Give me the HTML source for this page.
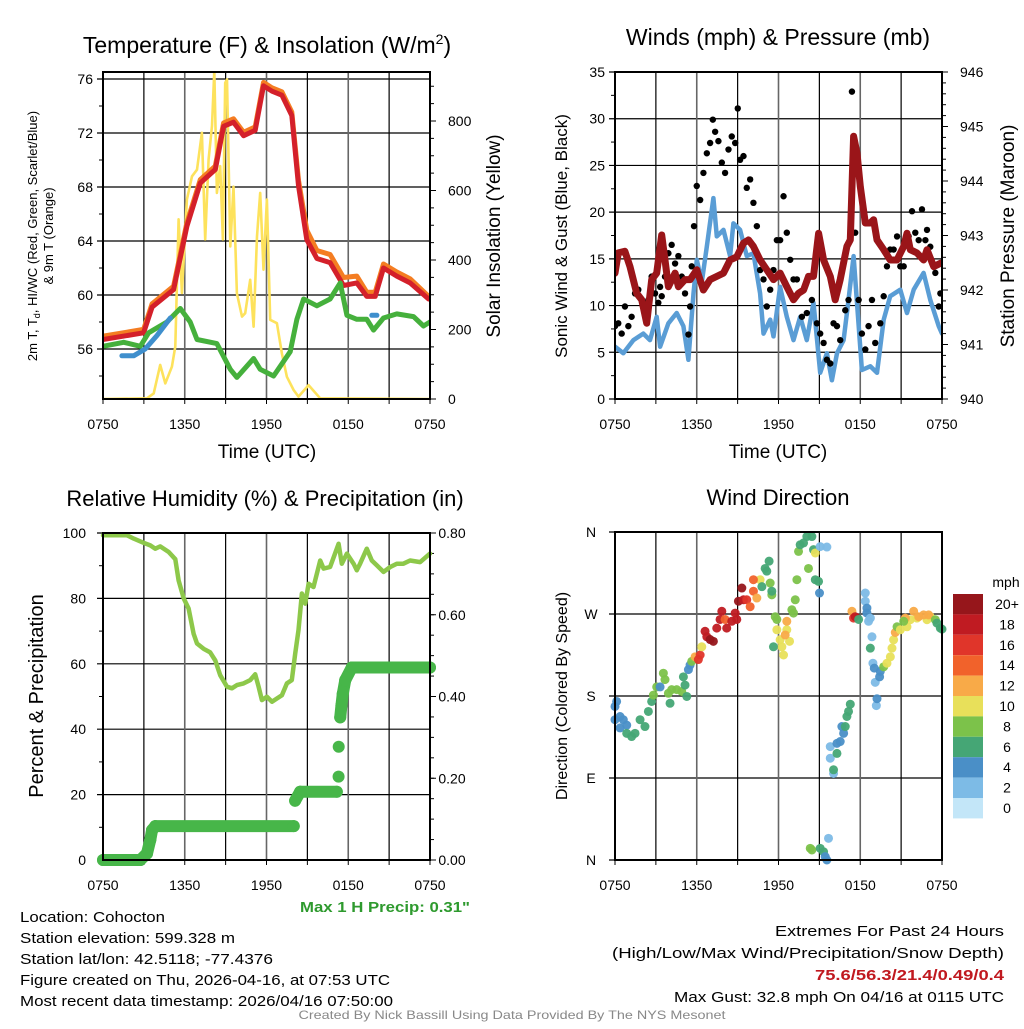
<!DOCTYPE html>
<html><head><meta charset="utf-8"><style>
html,body{margin:0;padding:0;background:#fff;}
svg text{font-family:"Liberation Sans",Arial,sans-serif;}
</style></head><body>
<svg id="fig" width="1024" height="1024" viewBox="0 0 1024 1024" xmlns="http://www.w3.org/2000/svg">
<rect width="1024" height="1024" fill="#fff"/>
<g id="root"></g>
</svg>
<script>
// ---------------- DATA ----------------
const tempHours=[0,2.98,3.6,5.18,6.16,7.14,8.24,8.85,9.58,10.32,11.17,11.78,12.4,13.13,13.86,14.35,14.96,15.7,16.67,17.65,18.63,19.36,19.98,20.59,21.56,22.54,23.9];
const tempRed=[56.7,57.2,59.1,60.4,65.1,68.3,69.3,72.5,72.8,71.8,72.2,75.5,75.1,74.8,73.3,68.1,64.1,62.7,62.4,60.7,60.9,59.9,59.9,62.0,61.4,60.9,59.7];
const tempOrange=[56.95,57.45,59.35,60.65,65.35,68.55,69.55,72.75,73.05,72.05,72.45,75.75,75.35,75.05,73.55,68.5,64.8,63.3,63.0,61.3,61.4,60.2,60.2,62.3,61.7,61.2,59.9];
const dewHours=[0,1.52,2.74,3.35,4.69,5.67,6.4,6.9,8.36,9.34,9.83,11.05,11.54,12.52,13.74,14.23,14.72,15.7,16.67,17.41,17.9,18.63,19.36,19.85,20.59,21.56,22.79,23.52,24];
const dewValues=[56.2,56.5,56.2,57.2,58,59,58,56.7,56.4,54.5,53.9,55.3,54.5,54,55.8,58.2,59.7,59.2,59.7,60.9,58.5,58.2,58.2,57.4,58.3,58.6,58.4,57.7,58];
const hiwcHours=[1.39,2.25,3.1,3.96,4.94];
const hiwcValues=[55.5,55.5,56,57,58.3];
const hiwc2Hours=[19.73,20.1];
const hiwc2Values=[58.5,58.5];
const solarHours=[0,3.23,3.72,4.2,4.57,5.06,5.31,5.55,5.79,6.16,6.53,6.9,7.26,7.5,7.75,8,8.17,8.36,8.6,8.8,8.97,9.1,9.34,9.58,9.83,10.2,10.44,10.8,11.05,11.3,11.54,11.78,12.03,12.27,12.76,13.13,13.5,13.99,14.35,15.09,15.94,24];
const solarValues=[0,2,16,98,45,93,151,517,305,574,641,660,766,459,690,786,945,593,670,459,910,920,439,611,304,237,247,343,208,468,593,372,574,228,218,131,64,26,7,40,2,0];
const tempTicks=[56,60,64,68,72,76];
const solarTicks=[0,200,400,600,800];
const timeTickLabels=["0750","1350","1950","0150","0750"];

const windHours=[0,0.61,1.35,2.08,2.57,3.06,3.31,3.92,4.53,5.02,5.39,5.76,6,6.37,6.74,7.22,7.47,7.96,8.45,8.69,9.18,9.67,10.16,10.65,10.9,11.39,11.63,12.12,12.61,13.1,13.59,14.08,14.57,15.06,15.55,15.92,16.29,16.78,17.14,17.51,17.76,18.12,18.74,19.23,19.72,20.2,20.94,21.43,21.92,22.65,23.14,23.76,24];
const windValues=[5.6,4.9,6.3,7,6.3,8.8,5.6,8.1,9.2,7.8,4.2,11.3,14.9,12.5,16.3,21.5,17.4,18.1,15.3,18.8,18.1,15.3,15.6,11.3,7,8.5,6.7,12,8.8,6.3,8.8,6.3,10.3,2.8,4.9,2,4.9,6.3,10.6,15.3,10.3,3.1,3.5,2.8,8.5,11,11.7,9.2,11.7,13.5,10.6,7.8,7];
const gustHours=[0,0.24,0.49,0.73,0.98,1.22,1.47,1.71,2.08,2.45,2.69,2.94,3.18,3.31,3.43,3.67,3.92,4.16,4.41,4.65,4.9,5.14,5.39,5.51,5.63,5.8,6,6.25,6.49,6.74,6.98,7.18,7.35,7.59,7.84,8.08,8.33,8.57,8.82,9.01,9.18,9.43,9.67,9.92,10.16,10.41,10.65,10.9,11.14,11.39,11.63,11.88,12.12,12.37,12.61,12.86,13.1,13.35,13.72,14.08,14.45,14.82,15.06,15.31,15.55,15.8,16.04,16.29,16.53,16.9,17.14,17.39,17.63,17.88,18.12,18.37,18.61,18.86,19.1,19.47,19.72,19.96,20.2,20.45,20.7,20.94,21.19,21.55,21.8,22.04,22.29,22.53,22.78,22.9,23.14,23.51,23.76,23.88];
const gustValues=[7.8,8.1,7,9.9,7.8,8.8,11.3,11.7,10.3,10.6,13.1,11.3,10.3,12,11,13.1,15.6,16.5,14.5,15.3,13.1,11.3,6.9,9.9,14.2,18.5,22.8,21.3,24.2,26.3,27.4,29.9,28.6,27.6,25.3,24.2,26.7,28.1,27.4,31.1,25.6,26,22.6,23.5,21,18.5,13.8,12.8,9.9,11.7,13.8,17,17,21.7,17.8,14.9,12.8,12.8,8.8,9.2,10.6,8.1,7,6,4.2,3.8,8.1,7.8,6.3,9.5,10.6,32.9,17.8,10.6,7,5.3,7.8,10.6,6,8.1,11,14.2,16,16,17.4,14.2,14.2,17.4,20.1,17.8,17,20.3,17,18.1,16.3,13.5,9.9,11.3];
const presHours=[0,0.24,0.73,1.1,1.59,1.96,2.33,2.69,3.06,3.43,3.67,3.92,4.41,4.65,5.14,5.51,6,6.49,6.98,7.47,7.96,8.45,8.94,9.43,9.8,10.16,10.65,11.14,11.63,12.12,12.61,13.1,13.47,13.84,14.2,14.57,14.94,15.31,15.8,16.16,16.53,17.02,17.27,17.51,17.76,18,18.37,18.74,18.98,19.23,19.72,20.2,20.7,21.19,21.43,21.67,22.16,22.65,22.9,23.39,23.88,24];
const presValues=[942.31,942.68,942.71,942.43,941.94,941.82,941.39,942.19,942.31,943.01,942.55,942.06,942.31,942.06,942.19,942.19,942.37,942.0,942.19,942.25,942.31,942.55,942.61,942.86,942.92,942.8,942.55,942.37,942.19,942.31,942.06,941.82,941.94,942.0,942.25,942.25,943.04,942.55,942.25,941.82,942.19,942.8,942.92,944.82,944.51,943.9,943.23,943.23,943.29,942.92,942.74,942.55,942.55,942.8,943.04,942.74,942.68,942.55,942.74,942.43,942.49,942.49];
const windTicks=[0,5,10,15,20,25,30,35];
const presTicks=[940,941,942,943,944,945,946];

const rhHours=[0,1.76,2.25,2.98,3.47,3.84,4.2,4.82,5.31,5.55,5.92,6.28,6.65,6.9,7.38,7.87,8.24,8.6,9.1,9.46,9.83,10.32,10.8,11.17,11.42,11.66,12.03,12.4,12.76,13.13,13.5,13.86,14.11,14.35,14.6,14.84,15.09,15.45,15.94,16.19,16.67,17.29,17.53,17.9,18.39,18.63,18.87,19.36,19.73,20.1,20.59,21.08,21.56,22.05,22.54,23.28,24];
const rhValues=[99.3,99.3,98.3,97,96.2,95.2,95.9,94.2,92,85.5,80,76.9,69.2,66.2,64.6,63.5,61,56.5,53,52.5,53.5,54,55,56.8,53,48.9,49.9,48.4,49.4,50.4,54,55,63.1,70.3,81.5,78.4,84.5,83.5,91.6,89.1,89.6,96.7,90.6,93.7,90.6,88.6,90.6,95.2,91.6,90.1,88.1,89.6,90.6,90.6,91.6,91.1,93.7];
const precipHours=[0,2.74,3.23,3.47,3.6,3.84,14.0,14.1,14.47,17.16,17.29,17.3,17.41,17.5,17.6,17.78,18.26,24];
const precipValues=[0,0,0.016,0.049,0.073,0.083,0.083,0.145,0.167,0.167,0.204,0.277,0.349,0.378,0.407,0.44,0.471,0.471];
const rhTicks=[0,20,40,60,80,100];
const precipTicks=[0,0.2,0.4,0.6,0.8];
const precipTickLabels=["0.00","0.20","0.40","0.60","0.80"];

const dirHours=[0,0.12,0,0.37,0.61,0.86,0.37,0.86,1.22,1.47,1.84,2.2,2.45,2.69,2.82,3.06,3.31,3.55,3.67,3.92,4.16,4.53,4.9,4.04,5.14,5.27,5.02,5.39,5.51,5.63,5.88,6.12,6.25,6.37,6.61,6.74,6.98,7.22,7.47,7.71,7.84,8.08,8.2,8.57,8.82,9.06,8.94,9.31,9.43,9.67,9.92,10.16,10.41,10.65,10.16,10.78,11.02,11.14,11.31,11.39,11.51,11.51,11.76,11.88,11.88,12.12,12.25,12.37,12.61,12.81,12.49,12.61,11.63,12.98,13.1,13.23,13.35,13.47,14.2,13.59,13.84,14.08,14.45,14.57,14.7,14.94,15.01,14.7,15.06,15.55,14.33,14.45,15.06,15.31,15.43,15.55,15.67,15.8,15.8,16.04,16.04,16.29,16.29,16.53,16.65,16.78,16.9,17.02,17.14,17.27,17.39,17.51,17.63,17.88,18.37,18.37,18.49,18.49,18.61,18.74,18.86,18.74,18.93,19.1,19.18,19.03,19.42,19.47,19.23,19.72,19.96,20.21,20.33,20.45,20.57,20.7,20.94,21.43,21.67,22.16,22.9,23.14,21.31,21.92,22.29,22.65,23.02,21.19,23.51,23.63,23.88,24];
const dirDegrees=[168.5,174,154,157.5,154,148,145,139,135.5,139,154,146.5,163,174,181,190,190,205,198,183,187,187,185,172,192,179.5,201,209,214,218,223,220,225,234,251,245,242,240,254.5,264,273,264,254.5,262,271,284,264,298.5,285.6,285.6,278,295,287.5,307.6,307.6,300,320,317,328,304,291,295,267,264,252.7,241.7,234,225,252.7,240,247,262,234,274.6,271,285.6,307.6,338.7,320,346,348,355,355,340.6,307.6,305.8,293,337,344,343.5,12.8,11,12.8,9,3.7,0,23.8,124.5,111.7,95,99,117,128,130,146.5,139,146.5,157.5,163,171,273,265.5,267,264,293,284,276.5,271,262,265.5,245,232.5,216,195,169.5,210.6,201,207,177,212,216,223,232.5,241.7,249.7,256,252.7,256,263.7,265.5,263.7,267,265.5,273,267,269,269,262,263.7,260,254.5,253.4];
const dirSpeeds=[4,4,4,4,4,4,4,6,6,6,6,6,6,6,8,8,4,8,8,8,8,8,8,6,6,6,6,4,4,8,12,16,16,10,18,18,20,20,18,18,18,14,18,18,18,20,18,20,18,16,14,14,12,10,14,6,6,6,6,8,8,6,8,8,10,10,10,10,10,10,12,12,6,8,8,8,8,8,8,6,6,6,6,6,6,6,4,10,2,2,8,8,6,6,4,4,2,2,2,2,6,6,4,4,4,4,6,6,6,6,12,16,18,6,2,2,4,4,2,2,2,6,2,2,2,4,4,4,4,8,10,10,10,10,12,8,10,10,10,10,10,10,12,12,12,12,12,8,8,6,6,6];
const dirTicks=[0,90,180,270,360];
const dirTickLabels=["N","E","S","W","N"];
const speedBinLabels=["0","2","4","6","8","10","12","14","16","18","20+"];
const speedBinColors=["#c3e6f8","#7dbbe6","#4a8fc7","#45a675","#7cc24a","#e8e05a","#f8aa48","#f1622b","#e0352a","#c01b22","#96161b"];

// ---------------- DRAWING ----------------
const NS="http://www.w3.org/2000/svg";
const root=document.getElementById('root');
function mk(tag,attrs,parent){const e=document.createElementNS(NS,tag);for(const k in attrs)e.setAttribute(k,attrs[k]);(parent||root).appendChild(e);return e;}
function txt(s,x,y,size,anchor,parent,extra){const t=mk('text',Object.assign({x:x,y:y,'font-size':size,'text-anchor':anchor||'middle',fill:'#000'},extra||{}),parent);t.textContent=s;return t;}
function lin(d0,d1,r0,r1){return v=>r0+(v-d0)*(r1-r0)/(d1-d0);}
function panelFrame(name){
  const g=mk('g',{});
  
  
  return g;
}
function timeGrid(g,X,y0,y1,labelY){
  for(let h=0;h<=24;h+=3){
    const l=mk('line',{x1:X(h),x2:X(h),y1:y0,y2:y1,stroke:(h%6==0)?'#666':'#000','stroke-width':(h%6==0)?1.6:1.2},g);
    
    
    mk('line',{x1:X(h),x2:X(h),y1:y1,y2:y1+5,stroke:'#000','stroke-width':1},g);
  }
  timeTickLabels.forEach((s,i)=>{const t=txt(s,X(i*6),labelY,14,'middle',g);
    
    });
}
function polyline(g,xs,ys,X,Y,color,w,name){
  const pts=xs.map((h,i)=>X(h).toFixed(1)+','+Y(ys[i]).toFixed(1)).join(' ');
  const p=mk('polyline',{points:pts,fill:'none',stroke:color,'stroke-width':w,'stroke-linejoin':'round','stroke-linecap':'round'},g);
  
  
  return p;
}

// ===== Panel 1 =====
(function(){
  const x0=103,x1=430,y0=72,y1=399;
  const g=panelFrame('temperature-panel');
  const X=lin(0,24,x0,x1), T=lin(56,76,349,79), S=lin(0,800,399,121);
  const cp=mk('clipPath',{id:'c1'},g);mk('rect',{x:x0,y:y0,width:x1-x0,height:y1-y0},cp);
  tempTicks.forEach(v=>{const l=mk('line',{x1:x0-6,x2:x1,y1:T(v),y2:T(v),stroke:'#000','stroke-width':1.2},g);
    
    
    const t=txt(String(v),x0-10,T(v)+5,14,'end',g);
    
    });
  for(let v=54;v<=76;v+=2){if(v%4)mk('line',{x1:x0-4,x2:x0,y1:T(v),y2:T(v),stroke:'#000'},g);}
  solarTicks.forEach(v=>{mk('line',{x1:x1,x2:x1+6,y1:S(v),y2:S(v),stroke:'#000'},g);
    const t=txt(String(v),x1+18,S(v)+5,14,'start',g);
    
    });
  for(let v=50;v<=900;v+=50){if(v%200)mk('line',{x1:x1,x2:x1+4,y1:S(v),y2:S(v),stroke:'#000'},g);}
  timeGrid(g,X,y0,y1,429);
  const dg=mk('g',{'clip-path':'url(#c1)'},g);
  polyline(dg,solarHours,solarValues,X,S,'#fde25c',2.6,'solar-insolation-line');
  polyline(dg,tempHours,tempOrange,X,T,'#f47d22',5,'9m-temperature-line');
  polyline(dg,tempHours,tempRed,X,T,'#d4202a',5,'2m-temperature-line');
  polyline(dg,dewHours,dewValues,X,T,'#45b03c',5,'dewpoint-line');
  polyline(dg,hiwcHours,hiwcValues,X,T,'#3f8fcd',5,'heat-index-windchill-line');
  polyline(dg,hiwc2Hours,hiwc2Values,X,T,'#3f8fcd',5,'heat-index-windchill-line-2');
  const b=mk('rect',{x:x0,y:y0,width:x1-x0,height:y1-y0,fill:'none',stroke:'#000','stroke-width':2},g);
  
  const t=mk('text',{x:267,y:53,'font-size':23,'text-anchor':'middle'},g);
  t.innerHTML='Temperature (F) &amp; Insolation (W/m<tspan font-size="14" dy="-9">2</tspan><tspan dy="9">)</tspan>';
  
  const xl=txt('Time (UTC)',267,458,19,'middle',g);
  const yl=mk('text',{transform:'translate(37,236) rotate(-90)','font-size':13,'text-anchor':'middle'},g);
  yl.innerHTML='2m T, T<tspan font-size="9" dy="3">d</tspan><tspan dy="-3">, HI/WC (Red, Green, Scarlet/Blue)</tspan>';
  
  const yl2=txt('& 9m T (Orange)',0,0,13,'middle',g,{transform:'translate(53,236) rotate(-90)'});
  
  const yr=txt('Solar Insolation (Yellow)',0,0,19,'middle',g,{transform:'translate(500,236) rotate(-90)'});
  
})();

// ===== Panel 2 =====
(function(){
  const x0=615,x1=942,y0=72,y1=399;
  const g=panelFrame('winds-pressure-panel');
  const X=lin(0,24,x0,x1), W=lin(0,35,399,72), P=lin(940,946,399,72);
  const cp=mk('clipPath',{id:'c2'},g);mk('rect',{x:x0,y:y0,width:x1-x0,height:y1-y0},cp);
  windTicks.forEach(v=>{const l=mk('line',{x1:x0-6,x2:x1,y1:W(v),y2:W(v),stroke:'#000','stroke-width':1.2},g);
    
    const t=txt(String(v),x0-10,W(v)+5,14,'end',g);
    });
  for(let v=2.5;v<35;v+=5)mk('line',{x1:x0-4,x2:x0,y1:W(v),y2:W(v),stroke:'#000'},g);
  presTicks.forEach(v=>{mk('line',{x1:x1,x2:x1+6,y1:P(v),y2:P(v),stroke:'#000'},g);
    const t=txt(String(v),x1+18,P(v)+5,14,'start',g);
    });
  for(let v=940.2;v<946;v+=0.2)mk('line',{x1:x1,x2:x1+4,y1:P(v),y2:P(v),stroke:'#000'},g);
  timeGrid(g,X,y0,y1,429);
  const dg=mk('g',{'clip-path':'url(#c2)'},g);
  polyline(dg,windHours,windValues,X,W,'#5a9dd5',4.5,'sustained-wind-line');
  gustHours.forEach((h,i)=>{const c=mk('circle',{cx:X(h),cy:W(gustValues[i]),r:3.2,fill:'#000'},dg);
    });
  polyline(dg,presHours,presValues,X,P,'#9a1519',7,'station-pressure-line');
  const b=mk('rect',{x:x0,y:y0,width:x1-x0,height:y1-y0,fill:'none',stroke:'#000','stroke-width':2},g);
  
  const t=txt('Winds (mph) & Pressure (mb)',778,45,23,'middle',g);
  const xl=txt('Time (UTC)',778,458,19,'middle',g);
  const yl=txt('Sonic Wind & Gust (Blue, Black)',0,0,17,'middle',g,{transform:'translate(567,236) rotate(-90)'});
  
  const yr=txt('Station Pressure (Maroon)',0,0,19,'middle',g,{transform:'translate(1014,236) rotate(-90)'});
  
})();

// ===== Panel 3 =====
(function(){
  const x0=103,x1=430,y0=533,y1=860;
  const g=panelFrame('humidity-precip-panel');
  const X=lin(0,24,x0,x1), R=lin(0,100,860,533), Q=lin(0,0.8,860,533);
  const cp=mk('clipPath',{id:'c3'},g);mk('rect',{x:x0-8,y:y0,width:x1-x0+16,height:y1-y0+8},cp);
  rhTicks.forEach(v=>{const l=mk('line',{x1:x0-6,x2:x1,y1:R(v),y2:R(v),stroke:'#000','stroke-width':1.2},g);
    
    const t=txt(String(v),x0-17,R(v)+5,14,'end',g);
    });
  for(let v=10;v<100;v+=20)mk('line',{x1:x0-4,x2:x0,y1:R(v),y2:R(v),stroke:'#000'},g);
  precipTicks.forEach((v,i)=>{mk('line',{x1:x1,x2:x1+6,y1:Q(v),y2:Q(v),stroke:'#000'},g);
    const t=txt(precipTickLabels[i],x1+22,Q(v)+5,14,'middle',g);
    });
  for(let v=0.05;v<0.8;v+=0.05){mk('line',{x1:x1,x2:x1+4,y1:Q(v),y2:Q(v),stroke:'#000'},g);}
  timeGrid(g,X,y0,y1,890);
  const dg=mk('g',{'clip-path':'url(#c3)'},g);
  polyline(dg,rhHours,rhValues,X,R,'#8dc84a',4.5,'relative-humidity-line');
  precipHours.forEach((h,i)=>{
    if(i>0 && Math.abs(precipValues[i]-precipValues[i-1])<0.035){
      const l=mk('line',{x1:X(precipHours[i-1]),y1:Q(precipValues[i-1]),x2:X(h),y2:Q(precipValues[i]),stroke:'#47b649','stroke-width':12,'stroke-linecap':'round'},dg);
      
    }
    const c=mk('circle',{cx:X(h),cy:Q(precipValues[i]),r:6,fill:'#47b649'},dg);
    
  });
  const b=mk('rect',{x:x0,y:y0,width:x1-x0,height:y1-y0,fill:'none',stroke:'#000','stroke-width':2},g);
  
  const t=txt('Relative Humidity (%) & Precipitation (in)',265,506,22,'middle',g);
  const yl=txt('Percent & Precipitation',0,0,20,'middle',g,{transform:'translate(43,696) rotate(-90)'});
  
  const mp=txt('Max 1 H Precip: 0.31"',385,912,15,'middle',g,{fill:'#2e9a2e','font-weight':'bold',textLength:170,lengthAdjust:'spacingAndGlyphs'});
  
})();

// ===== Panel 4 =====
(function(){
  const x0=615,x1=942,y0=532,y1=860;
  const g=panelFrame('wind-direction-panel');
  const X=lin(0,24,x0,x1), D=lin(0,360,860,532);
  dirTicks.forEach((v,i)=>{const l=mk('line',{x1:x0-6,x2:x1,y1:D(v),y2:D(v),stroke:'#000','stroke-width':1.2},g);
    
    const t=txt(dirTickLabels[i],591,D(v)+5,14,'middle',g);
    });
  timeGrid(g,X,y0,y1,890);
  dirHours.forEach((h,i)=>{const bin=Math.min(10,Math.floor(dirSpeeds[i]/2));
    const c=mk('circle',{cx:X(h),cy:D(dirDegrees[i]),r:4.5,fill:speedBinColors[bin],'fill-opacity':0.95},g);
    });
  const b=mk('rect',{x:x0,y:y0,width:x1-x0,height:y1-y0,fill:'none',stroke:'#000','stroke-width':2},g);
  
  const t=txt('Wind Direction',778,505,22,'middle',g);
  const yl=txt('Direction (Colored By Speed)',0,0,16,'middle',g,{transform:'translate(567,696) rotate(-90)'});
  
  const cb=mk('g',{},g);
  
  speedBinLabels.forEach((s,i)=>{const yy=594+i*20.4;
    const r=mk('rect',{x:953,y:yy,width:30,height:20.4,fill:speedBinColors[10-i]},cb);
    
    const tt=txt(speedBinLabels[10-i],1007,yy+15,14,'middle',cb);
    });
  const u=txt('mph',1006,587,14,'middle',cb);
})();

// ===== Footer text =====
(function(){
  const g=mk('g',{});
  
  const L=[["Location: Cohocton",145],["Station elevation: 599.328 m",215],["Station lat/lon: 42.5118; -77.4376",253],["Figure created on Thu, 2026-04-16, at 07:53 UTC",370],["Most recent data timestamp: 2026/04/16 07:50:00",373]];
  L.forEach((a,i)=>{const t=txt(a[0],20,922+i*21,15,'start',g,{textLength:a[1],lengthAdjust:'spacingAndGlyphs'});
    });
  const g2=mk('g',{});
  
  const R=[["Extremes For Past 24 Hours",229,'#000','normal'],["(High/Low/Max Wind/Precipitation/Snow Depth)",392,'#000','normal'],["75.6/56.3/21.4/0.49/0.4",189,'#c0191f','bold'],["Max Gust: 32.8 mph On 04/16 at 0115 UTC",330,'#000','normal']];
  R.forEach((a,i)=>{const t=txt(a[0],1004,936+i*22,15,'end',g2,{fill:a[2],'font-weight':a[3],textLength:a[1],lengthAdjust:'spacingAndGlyphs'});
    });
  const c=txt('Created By Nick Bassill Using Data Provided By The NYS Mesonet',512,1019,12,'middle',null,{fill:'#888',textLength:427,lengthAdjust:'spacingAndGlyphs'});
  
})();
</script>
</body></html>
